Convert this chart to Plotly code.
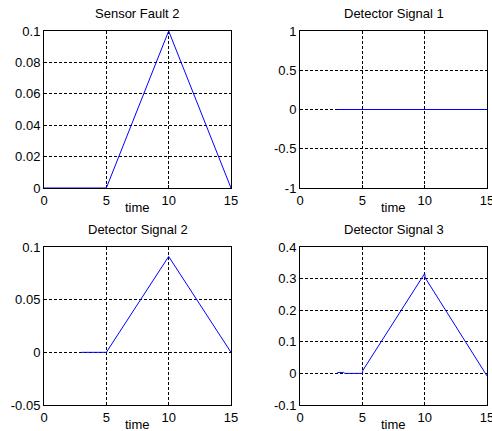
import plotly.graph_objects as go

# ---- data ----
titles = ["Sensor Fault 2", "Detector Signal 1", "Detector Signal 2", "Detector Signal 3"]

fault_t = [0, 5, 10, 15]
fault_y = [0, 0, 0.1, 0]

det1_t = [3, 15]
det1_y = [0, 0]

det2_t = [3, 5, 10, 15]
det2_y = [0, 0, 0.091, 0]

det3_t = [3, 3.5, 3.6, 5, 5.05, 10, 10.05, 15]
det3_y = [0.003, 0.003, 0, 0, 0.01, 0.316, 0.302, -0.008]

x_ticks = [0, 5, 10, 15]
x_ticktext = ["0", "5", "10", "15"]

y_ticks = [
    [0, 0.02, 0.04, 0.06, 0.08, 0.1],
    [-1, -0.5, 0, 0.5, 1],
    [-0.05, 0, 0.05, 0.1],
    [-0.1, 0, 0.1, 0.2, 0.3, 0.4],
]
y_ticktext = [
    ["0", "0.02", "0.04", "0.06", "0.08", "0.1"],
    ["-1", "-0.5", "0", "0.5", "1"],
    ["-0.05", "0", "0.05", "0.1"],
    ["-0.1", "0", "0.1", "0.2", "0.3", "0.4"],
]
y_ranges = [[0, 0.1], [-1, 1], [-0.05, 0.1], [-0.1, 0.4]]
x_range = [0, 15]

series = [(fault_t, fault_y), (det1_t, det1_y), (det2_t, det2_y), (det3_t, det3_y)]

# ---- layout (pixel geometry) ----
W, H = 492, 431
cols = [(44, 231), (300, 487)]
rows = [(31, 188), (247, 405)]
FONT = "Liberation Sans, Arial, sans-serif"

fig = go.Figure()
annotations = []
layout = dict(
    width=W, height=H, autosize=False,
    margin=dict(l=0, r=0, t=0, b=0, pad=0),
    paper_bgcolor="white", plot_bgcolor="white",
    showlegend=False,
    font=dict(family=FONT, size=13, color="black"),
)

for i in range(4):
    r, c = divmod(i, 2)
    x0, x1 = cols[c]
    top, bot = rows[r]
    n = "" if i == 0 else str(i + 1)
    t, y = series[i]
    fig.add_trace(go.Scatter(x=t, y=y, mode="lines", cliponaxis=False,
                             line=dict(color="#0000ff", width=1),
                             xaxis="x" + n, yaxis="y" + n, hoverinfo="skip"))
    axis_common = dict(
        automargin=False, layer="below traces", ticklabeloverflow="allow",
        showline=True, mirror=True, linecolor="black", linewidth=1,
        showgrid=True, gridcolor="black", gridwidth=1, griddash="3px,2px",
        zeroline=False, ticks="inside", ticklen=3, tickcolor="black",
        tickfont=dict(family=FONT, size=13, color="black"),
    )
    layout["xaxis" + n] = dict(
        axis_common,
        domain=[x0 / W, x1 / W], range=x_range, anchor="y" + n,
        tickmode="array", tickvals=x_ticks, ticktext=x_ticktext,
    )
    layout["yaxis" + n] = dict(
        axis_common,
        domain=[1 - bot / H, 1 - top / H], range=y_ranges[i], anchor="x" + n,
        tickmode="array", tickvals=y_ticks[i], ticktext=y_ticktext[i],
    )
    cx = (x0 + x1) / 2 / W
    annotations.append(dict(text=titles[i], x=cx, y=1 - (top - 17) / H,
                            xref="paper", yref="paper", showarrow=False,
                            xanchor="center", yanchor="middle",
                            font=dict(family=FONT, size=13, color="black")))
    annotations.append(dict(text="time", x=cx, y=1 - (bot + 19) / H,
                            xref="paper", yref="paper", showarrow=False,
                            xanchor="center", yanchor="middle",
                            font=dict(family=FONT, size=13, color="black")))

layout["annotations"] = annotations
fig.update_layout(**layout)
fig.write_html(
    "out.html",
    config={"displayModeBar": False},
    post_script="document.body.style.margin='0';document.body.style.overflow='hidden';",
)
